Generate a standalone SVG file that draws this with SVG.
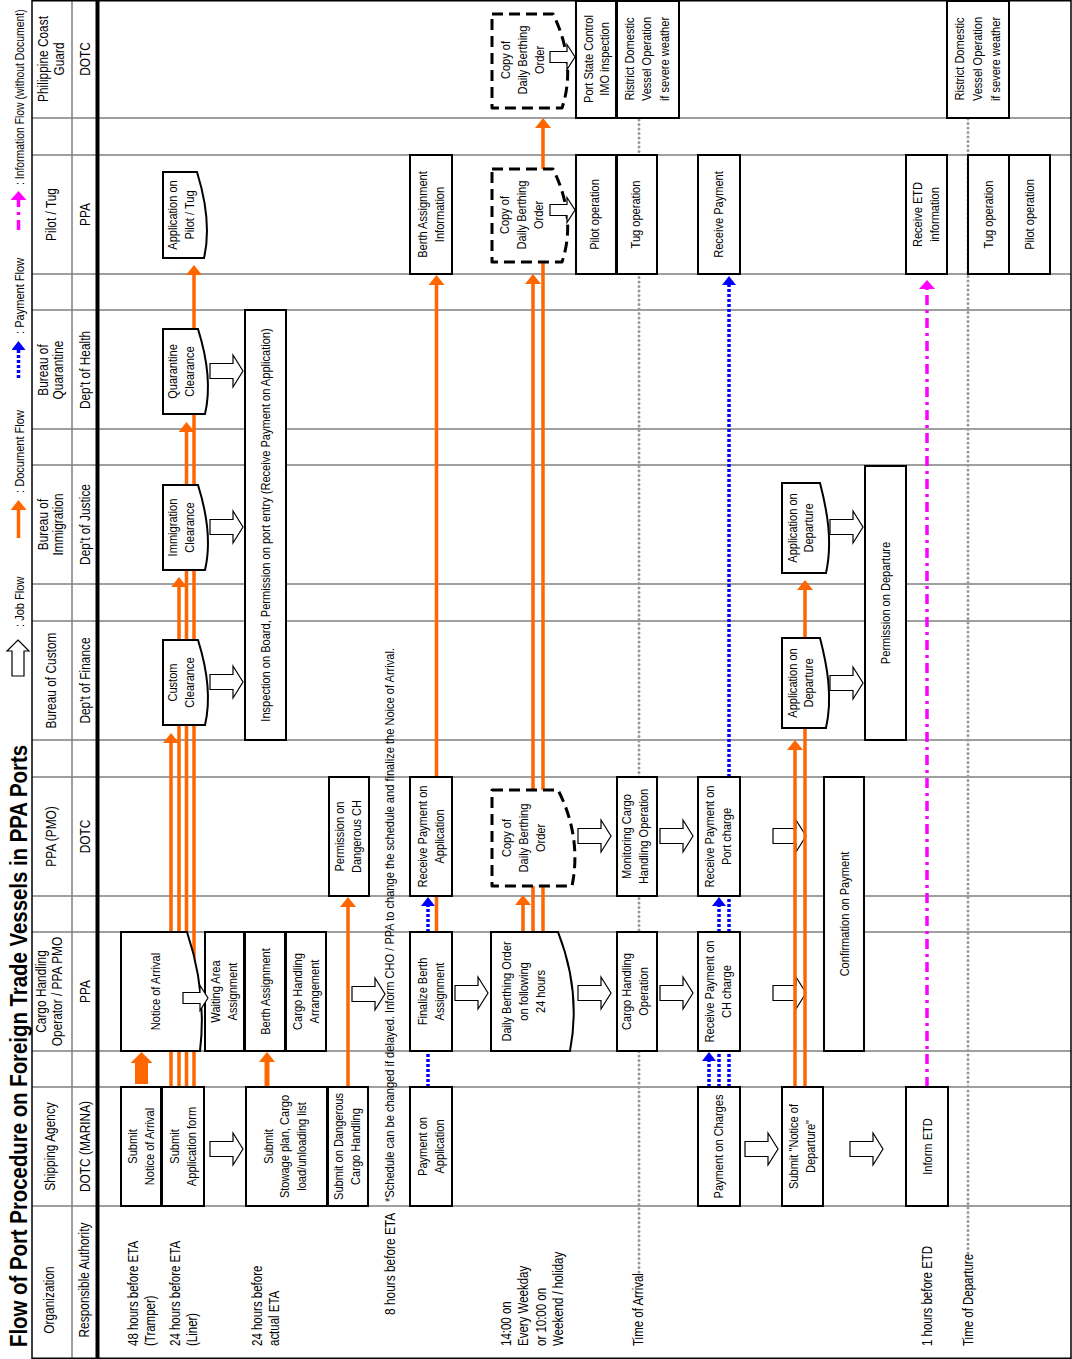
<svg xmlns="http://www.w3.org/2000/svg" width="1072" height="1359" viewBox="0 0 1072 1359">
<defs>
<style>
text{font-family:"Liberation Sans",Arial,Helvetica,sans-serif;fill:#000}
.bt{font-size:13.5px;text-anchor:middle}
.hd{font-size:14.5px;text-anchor:middle}
.tl{font-size:14px}
.lg{font-size:13.5px}
.title{font-size:24px;font-weight:bold}
.lane{stroke:#808080;stroke-width:1.5;fill:none}
.box{fill:#fff;stroke:#000;stroke-width:2}
.dbox{fill:#fff;stroke:#000;stroke-width:3;stroke-dasharray:11 6;stroke-linejoin:round}
.ja{fill:#fff;stroke:#000;stroke-width:1.2}
.jan{fill:none;stroke:#000;stroke-width:1.2}
.or{stroke:#FF6600;stroke-width:3.5;fill:none}
.bl{stroke:#0000FF;stroke-width:3.5;stroke-dasharray:3 2;fill:none}
.mg{stroke:#FF00FF;stroke-width:3.5;stroke-dasharray:10 5 3 5;fill:none}
.gd{stroke:#999;stroke-width:3;stroke-dasharray:0 4.5;stroke-linecap:round;fill:none}
</style>
<marker id="ah-o" viewBox="0 0 10 16" refX="0" refY="8" markerWidth="10" markerHeight="16" markerUnits="userSpaceOnUse" orient="auto"><path d="M0,0L10,8L0,16Z" fill="#FF6600"/></marker>
<marker id="ah-b" viewBox="0 0 9 14" refX="0" refY="7" markerWidth="9" markerHeight="14" markerUnits="userSpaceOnUse" orient="auto"><path d="M0,0L9,7L0,14Z" fill="#0000FF"/></marker>
<marker id="ah-m" viewBox="0 0 9 16" refX="0" refY="8" markerWidth="9" markerHeight="16" markerUnits="userSpaceOnUse" orient="auto"><path d="M0,0L9,8L0,16Z" fill="#FF00FF"/></marker>
<path id="ja" d="M0,-7.5H23V-16L33,0L23,16V7.5H0Z"/>
<path id="jas" d="M0,-5.5H17V-12.5L25,0L17,12.5V5.5H0Z"/>
</defs>
<rect x="0" y="0" width="1072" height="1359" fill="#fff"/>

<g id="grid">
<path class="lane" d="M32 118H1071M32 155H1071M32 274H1071M32 310H1071M32 429H1071M32 465H1071M32 584H1071M32 621H1071M32 740H1071M32 777H1071M32 896H1071M32 932H1071M32 1051H1071M32 1087H1071M32 1206H1071M72 0V1359"/>
<path d="M32 0V1359M1071 0V1359M32 0.75H1071M32 1358.25H1071" stroke="#000" stroke-width="1.5" fill="none"/>
<path d="M97.5 0V1359" stroke="#000" stroke-width="4"/>
</g>

<g id="title">
<text class="title" transform="translate(27,1347) rotate(-90)" textLength="602" lengthAdjust="spacingAndGlyphs">Flow of Port Procedure on Foreign Trade Vessels in PPA Ports</text>
</g>

<g id="legend">
<path d="M18,640L29,651L24,651L24,676L12,676L12,651L7,651Z" class="ja"/>
<text class="lg" transform="translate(23.5,627) rotate(-90) scale(.82,1)">: Job Flow</text>
<path class="or" d="M18.5 538V510" marker-end="url(#ah-o)"/>
<text class="lg" transform="translate(23.5,493) rotate(-90) scale(.82,1)">: Document Flow</text>
<path class="bl" d="M18.5 378V350" marker-end="url(#ah-b)"/>
<text class="lg" transform="translate(23.5,334) rotate(-90) scale(.82,1)">: Payment Flow</text>
<path class="mg" d="M18.5 230V200" marker-end="url(#ah-m)"/>
<text class="lg" style="font-size:13px" transform="translate(23.5,185) rotate(-90) scale(.8,1)">: Information Flow (without Document)</text>
</g>

<g id="header">
<text class="hd" transform="translate(48,59) rotate(-90) scale(.82,1)"><tspan x="0">Philippine Coast</tspan><tspan x="0" dy="16">Guard</tspan></text>
<text class="hd" transform="translate(89.5,59) rotate(-90) scale(.82,1)">DOTC</text>
<text class="hd" transform="translate(55.5,214.5) rotate(-90) scale(.82,1)">Pilot / Tug</text>
<text class="hd" transform="translate(89.5,214.5) rotate(-90) scale(.82,1)">PPA</text>
<text class="hd" transform="translate(47.5,370) rotate(-90) scale(.82,1)"><tspan x="0">Bureau of</tspan><tspan x="0" dy="16">Quarantine</tspan></text>
<text class="hd" transform="translate(89.5,370) rotate(-90) scale(.82,1)">Dep't of Health</text>
<text class="hd" transform="translate(47.5,524.5) rotate(-90) scale(.82,1)"><tspan x="0">Bureau of</tspan><tspan x="0" dy="16">Immigration</tspan></text>
<text class="hd" transform="translate(89.5,524.5) rotate(-90) scale(.82,1)">Dep't of Justice</text>
<text class="hd" transform="translate(55.5,680.5) rotate(-90) scale(.82,1)">Bureau of Custom</text>
<text class="hd" transform="translate(89.5,680.5) rotate(-90) scale(.82,1)">Dep't of Finance</text>
<text class="hd" transform="translate(55.5,836.5) rotate(-90) scale(.82,1)">PPA (PMO)</text>
<text class="hd" transform="translate(89.5,836.5) rotate(-90) scale(.82,1)">DOTC</text>
<text class="hd" transform="translate(46,991.5) rotate(-90) scale(.82,1)"><tspan x="0">Cargo Handling</tspan><tspan x="0" dy="16">Operator / PPA PMO</tspan></text>
<text class="hd" transform="translate(89.5,991.5) rotate(-90) scale(.82,1)">PPA</text>
<text class="hd" transform="translate(55,1146.5) rotate(-90) scale(.82,1)">Shipping Agency</text>
<text class="hd" transform="translate(89.5,1146.5) rotate(-90) scale(.82,1)">DOTC (MARINA)</text>
<text class="hd" transform="translate(54,1300) rotate(-90) scale(.82,1)">Organization</text>
<text class="hd" transform="translate(89,1280) rotate(-90) scale(.82,1)">Responsible Authority</text>
</g>

<g id="time-labels">
<text class="tl" transform="translate(138,1346) rotate(-90) scale(.82,1)">48 hours before ETA</text>
<text class="tl" transform="translate(155,1346) rotate(-90) scale(.82,1)">(Tramper)</text>
<text class="tl" transform="translate(180,1346) rotate(-90) scale(.82,1)">24 hours before ETA</text>
<text class="tl" transform="translate(197,1346) rotate(-90) scale(.82,1)">(Liner)</text>
<text class="tl" transform="translate(262,1346) rotate(-90) scale(.82,1)">24 hours before</text>
<text class="tl" transform="translate(279,1346) rotate(-90) scale(.82,1)">actual ETA</text>
<text class="tl" style="font-size:14.5px" transform="translate(395,1315) rotate(-90) scale(.82,1)">8 hours before ETA</text>
<text class="tl" style="font-size:13.5px" transform="translate(394,1202) rotate(-90)" textLength="554" lengthAdjust="spacingAndGlyphs">*Schedule can be changed if delayed. Inform CHO / PPA to change the schedule and finalize the Noice of Arrival.</text>
<text class="tl" transform="translate(511,1346) rotate(-90) scale(.82,1)">14:00 on</text>
<text class="tl" transform="translate(528,1346) rotate(-90) scale(.82,1)">Every Weekday</text>
<text class="tl" transform="translate(546,1346) rotate(-90) scale(.82,1)">or 10:00 on</text>
<text class="tl" transform="translate(563,1346) rotate(-90) scale(.82,1)">Weekend / holiday</text>
<text class="tl" transform="translate(643,1346) rotate(-90) scale(.82,1)">Time of Arrival</text>
<text class="tl" transform="translate(932,1346) rotate(-90) scale(.82,1)">1 hours before ETD</text>
<text class="tl" transform="translate(973,1346) rotate(-90) scale(.82,1)">Time of Departure</text>
</g>

<g id="connectors">
<path class="gd" d="M639 1272V118M968 1253V118"/>
<use href="#ja" class="jan" x="773" y="836"/>
<use href="#ja" class="jan" x="773" y="993"/>
<polygon points="135,1084 148,1084 148,1063 152.5,1063 141.5,1052 130.5,1063 135,1063" fill="#FF6600"/>
<path class="or" d="M171 1087V743" marker-end="url(#ah-o)"/>
<path class="or" d="M179 1087V587" marker-end="url(#ah-o)"/>
<path class="or" d="M186.5 1087V432" marker-end="url(#ah-o)"/>
<path class="or" d="M194 1087V275" marker-end="url(#ah-o)"/>
<path class="or" style="stroke-width:5" d="M267 1087V1062" marker-end="url(#ah-o)"/>
<path class="or" d="M348 1087V907" marker-end="url(#ah-o)"/>
<path class="or" d="M436.5 932V896"/>
<path class="or" d="M436.5 777V285" marker-end="url(#ah-o)"/>
<path class="or" d="M523 932V905" marker-end="url(#ah-o)"/>
<path class="or" d="M533 932V284" marker-end="url(#ah-o)"/>
<path class="or" d="M543 932V128" marker-end="url(#ah-o)"/>
<path class="or" d="M795 1087V750" marker-end="url(#ah-o)"/>
<path class="or" d="M805 1087V590" marker-end="url(#ah-o)"/>
<path class="bl" d="M428 1087V906" marker-end="url(#ah-b)"/>
<path class="bl" d="M709 1087V1061" marker-end="url(#ah-b)"/>
<path class="bl" d="M719 1087V906" marker-end="url(#ah-b)"/>
<path class="bl" d="M729 1087V285" marker-end="url(#ah-b)"/>
<path class="mg" d="M927 1087V289" marker-end="url(#ah-m)"/>
</g>

<g id="nodes">
<g id="n-submit-noa"><rect class="box" x="121" y="1087" width="40" height="119"/><text class="bt" transform="translate(137,1146.5) rotate(-90) scale(.82,1)"><tspan x="0">Submit</tspan><tspan x="0" dy="17">Notice of Arrival</tspan></text></g>
<g id="n-submit-app"><rect class="box" x="162" y="1087" width="42" height="119"/><text class="bt" transform="translate(179,1146.5) rotate(-90) scale(.82,1)"><tspan x="0">Submit</tspan><tspan x="0" dy="17">Application form</tspan></text></g>
<g id="n-notice-arrival"><path class="box" d="M121 932H187C199 967.7 205 1009.4 200 1051H121Z"/><text class="bt" transform="translate(160,991.5) rotate(-90) scale(.82,1)">Notice of Arrival</text></g>
<g id="n-waiting"><rect class="box" x="205" y="932" width="39" height="119"/><text class="bt" transform="translate(220,991.5) rotate(-90) scale(.82,1)"><tspan x="0">Waiting Area</tspan><tspan x="0" dy="17">Assignment</tspan></text></g>
<g id="n-berth"><rect class="box" x="245" y="932" width="40" height="119"/><text class="bt" transform="translate(269.5,991.5) rotate(-90) scale(.82,1)">Berth Assignment</text></g>
<g id="n-ch-arrangement"><rect class="box" x="286" y="932" width="40" height="119"/><text class="bt" transform="translate(302,991.5) rotate(-90) scale(.82,1)"><tspan x="0">Cargo Handling</tspan><tspan x="0" dy="17">Arrangement</tspan></text></g>
<g id="n-stowage"><rect class="box" x="246" y="1087" width="81" height="119"/><text class="bt" transform="translate(272.5,1146.5) rotate(-90) scale(.82,1)"><tspan x="0">Submit</tspan><tspan x="0" dy="17">Stowage plan, Cargo</tspan><tspan x="0" dy="17">load/unloading list</tspan></text></g>
<g id="n-dangerous"><rect class="box" x="328" y="1087" width="40" height="119"/><text class="bt" transform="translate(343,1146.5) rotate(-90) scale(.82,1)"><tspan x="0">Submit on Dangerous</tspan><tspan x="0" dy="17">Cargo Handling</tspan></text></g>
<g id="n-perm-dangerous"><rect class="box" x="329" y="777" width="40" height="119"/><text class="bt" transform="translate(344,836.5) rotate(-90) scale(.82,1)"><tspan x="0">Permission on</tspan><tspan x="0" dy="17">Dangerous CH</tspan></text></g>
<g id="n-custom-clr"><path class="box" d="M163 640H198C206 665.5 212 695.3 205 725H163Z"/><text class="bt" transform="translate(177,682.5) rotate(-90) scale(.82,1)"><tspan x="0">Custom</tspan><tspan x="0" dy="17">Clearance</tspan></text></g>
<g id="n-imm-clr"><path class="box" d="M163 485H198C206 510.5 212 540.3 205 570H163Z"/><text class="bt" transform="translate(177,527.5) rotate(-90) scale(.82,1)"><tspan x="0">Immigration</tspan><tspan x="0" dy="17">Clearance</tspan></text></g>
<g id="n-quar-clr"><path class="box" d="M163 329H198C206 354.5 212 384.3 205 414H163Z"/><text class="bt" transform="translate(177,371.5) rotate(-90) scale(.82,1)"><tspan x="0">Quarantine</tspan><tspan x="0" dy="17">Clearance</tspan></text></g>
<g id="n-app-pilot"><path class="box" d="M163 172H197C205 197.8 211 227.9 204 258H163Z"/><text class="bt" transform="translate(177,215) rotate(-90) scale(.82,1)"><tspan x="0">Application on</tspan><tspan x="0" dy="17">Pilot / Tug</tspan></text></g>
<g id="n-inspection"><rect class="box" x="245" y="310" width="41" height="430"/><text class="bt" transform="translate(270,525) rotate(-90) scale(.82,1)">Inspection on Board, Permission on port entry (Receive Payment on Application)</text></g>
<g id="n-pay-app"><rect class="box" x="410" y="1087" width="42" height="119"/><text class="bt" transform="translate(427,1146.5) rotate(-90) scale(.82,1)"><tspan x="0">Payment on</tspan><tspan x="0" dy="17">Application</tspan></text></g>
<g id="n-finalize"><rect class="box" x="410" y="932" width="42" height="119"/><text class="bt" transform="translate(427,991.5) rotate(-90) scale(.82,1)"><tspan x="0">Finalize Berth</tspan><tspan x="0" dy="17">Assignment</tspan></text></g>
<g id="n-recv-app"><rect class="box" x="410" y="777" width="42" height="119"/><text class="bt" transform="translate(427,836.5) rotate(-90) scale(.82,1)"><tspan x="0">Receive Payment on</tspan><tspan x="0" dy="17">Application</tspan></text></g>
<g id="n-berth-info"><rect class="box" x="410" y="155" width="42" height="119"/><text class="bt" transform="translate(427,214.5) rotate(-90) scale(.82,1)"><tspan x="0">Berth Assignment</tspan><tspan x="0" dy="17">Information</tspan></text></g>
<g id="n-daily"><path class="box" d="M491 932H558C572 967.7 578 1009.4 570 1051H491Z"/><text class="bt" transform="translate(511,991.5) rotate(-90) scale(.82,1)"><tspan x="0">Daily Berthing Order</tspan><tspan x="0" dy="17">on following</tspan><tspan x="0" dy="17">24 hours</tspan></text></g>
<g id="n-copy-pmo"><path class="dbox" d="M492 790H558C573 818.8 579 852.4 572 886H492Z"/><text class="bt" transform="translate(511,838) rotate(-90) scale(.82,1)"><tspan x="0">Copy of</tspan><tspan x="0" dy="17">Daily Berthing</tspan><tspan x="0" dy="17">Order</tspan></text></g>
<g id="n-copy-pilot"><path class="dbox" d="M492 169H553C567 196.9 573 229.5 562 262H492Z"/><text class="bt" transform="translate(509,215) rotate(-90) scale(.82,1)"><tspan x="0">Copy of</tspan><tspan x="0" dy="17">Daily Berthing</tspan><tspan x="0" dy="17">Order</tspan></text></g>
<g id="n-copy-pcg"><path class="dbox" d="M492 14H553C567 42.2 573 75.1 562 108H492Z"/><text class="bt" transform="translate(510,60) rotate(-90) scale(.82,1)"><tspan x="0">Copy of</tspan><tspan x="0" dy="17">Daily Berthing</tspan><tspan x="0" dy="17">Order</tspan></text></g>
<g id="n-psc"><rect class="box" x="576" y="1" width="40" height="117"/><text class="bt" transform="translate(592.5,59) rotate(-90) scale(.82,1)"><tspan x="0">Port State Control</tspan><tspan x="0" dy="16.5">IMO inspection</tspan></text></g>
<g id="n-ristrict-1"><rect class="box" x="617" y="1" width="62" height="117"/><text class="bt" transform="translate(634,59) rotate(-90) scale(.82,1)"><tspan x="0">Ristrict Domestic</tspan><tspan x="0" dy="17.5">Vessel Operation</tspan><tspan x="0" dy="17.5">if severe weather</tspan></text></g>
<g id="n-pilot-op-1"><rect class="box" x="576" y="155" width="40" height="119"/><text class="bt" transform="translate(599,214.5) rotate(-90) scale(.82,1)">Pilot operation</text></g>
<g id="n-tug-op-1"><rect class="box" x="617" y="155" width="40" height="119"/><text class="bt" transform="translate(640,214.5) rotate(-90) scale(.82,1)">Tug operation</text></g>
<g id="n-monitoring"><rect class="box" x="617" y="777" width="40" height="119"/><text class="bt" transform="translate(631,836.5) rotate(-90) scale(.82,1)"><tspan x="0">Monitoring Cargo</tspan><tspan x="0" dy="17">Handling Operation</tspan></text></g>
<g id="n-ch-operation"><rect class="box" x="617" y="932" width="40" height="119"/><text class="bt" transform="translate(631,991.5) rotate(-90) scale(.82,1)"><tspan x="0">Cargo Handling</tspan><tspan x="0" dy="17">Operation</tspan></text></g>
<g id="n-pay-charges"><rect class="box" x="698" y="1087" width="42" height="119"/><text class="bt" transform="translate(723,1146.5) rotate(-90) scale(.82,1)">Payment on Charges</text></g>
<g id="n-recv-ch"><rect class="box" x="698" y="932" width="42" height="119"/><text class="bt" transform="translate(714,991.5) rotate(-90) scale(.82,1)"><tspan x="0">Receive Payment on</tspan><tspan x="0" dy="17">CH charge</tspan></text></g>
<g id="n-recv-port"><rect class="box" x="698" y="777" width="42" height="119"/><text class="bt" transform="translate(714,836.5) rotate(-90) scale(.82,1)"><tspan x="0">Receive Payment on</tspan><tspan x="0" dy="17">Port charge</tspan></text></g>
<g id="n-recv-pay"><rect class="box" x="698" y="155" width="42" height="119"/><text class="bt" transform="translate(723,214.5) rotate(-90) scale(.82,1)">Receive Payment</text></g>
<g id="n-submit-nod"><rect class="box" x="782" y="1087" width="41" height="119"/><text class="bt" transform="translate(798,1146.5) rotate(-90) scale(.82,1)"><tspan x="0">Submit "Notice of</tspan><tspan x="0" dy="17">Departure"</tspan></text></g>
<g id="n-app-dep-c"><path class="box" d="M782 638H820C827 665 833 696.5 826 728H782Z"/><text class="bt" transform="translate(797,683) rotate(-90) scale(.82,1)"><tspan x="0">Application on</tspan><tspan x="0" dy="16.5">Departure</tspan></text></g>
<g id="n-app-dep-i"><path class="box" d="M782 483H820C827 510 833 541.5 826 573H782Z"/><text class="bt" transform="translate(797,528) rotate(-90) scale(.82,1)"><tspan x="0">Application on</tspan><tspan x="0" dy="16.5">Departure</tspan></text></g>
<g id="n-confirm"><rect class="box" x="824" y="777" width="40" height="274"/><text class="bt" transform="translate(848.5,914) rotate(-90) scale(.82,1)">Confirmation on Payment</text></g>
<g id="n-perm-dep"><rect class="box" x="865" y="466" width="41" height="274"/><text class="bt" transform="translate(890,603) rotate(-90) scale(.82,1)">Permission on Departure</text></g>
<g id="n-inform-etd"><rect class="box" x="906" y="1087" width="42" height="119"/><text class="bt" transform="translate(931.5,1146.5) rotate(-90) scale(.82,1)">Inform ETD</text></g>
<g id="n-recv-etd"><rect class="box" x="906" y="155" width="41" height="119"/><text class="bt" transform="translate(922,214.5) rotate(-90) scale(.82,1)"><tspan x="0">Receive ETD</tspan><tspan x="0" dy="17">information</tspan></text></g>
<g id="n-tug-op-2"><rect class="box" x="968" y="155" width="41" height="119"/><text class="bt" transform="translate(992.5,214.5) rotate(-90) scale(.82,1)">Tug operation</text></g>
<g id="n-pilot-op-2"><rect class="box" x="1009" y="155" width="41" height="119"/><text class="bt" transform="translate(1034,214.5) rotate(-90) scale(.82,1)">Pilot operation</text></g>
<g id="n-ristrict-2"><rect class="box" x="947" y="1" width="62" height="117"/><text class="bt" transform="translate(964,59) rotate(-90) scale(.82,1)"><tspan x="0">Ristrict Domestic</tspan><tspan x="0" dy="18">Vessel Operation</tspan><tspan x="0" dy="18">if severe weather</tspan></text></g>
</g>

<g id="job-flow">
<use href="#jas" class="ja" x="183" y="998"/>
<use href="#jas" class="ja" x="550" y="210"/>
<use href="#jas" class="ja" x="550" y="57"/>
<use href="#ja" class="ja" x="210" y="1149"/>
<use href="#ja" class="ja" x="352" y="994"/>
<use href="#ja" class="ja" x="210" y="682"/>
<use href="#ja" class="ja" x="210" y="527"/>
<use href="#ja" class="ja" x="210" y="371"/>
<use href="#ja" class="ja" x="455" y="993"/>
<use href="#ja" class="ja" x="578" y="836"/>
<use href="#ja" class="ja" x="578" y="993"/>
<use href="#ja" class="ja" x="660" y="836"/>
<use href="#ja" class="ja" x="660" y="993"/>
<use href="#ja" class="ja" x="745" y="1149"/>
<use href="#ja" class="ja" x="830" y="683"/>
<use href="#ja" class="ja" x="830" y="527"/>
<use href="#ja" class="ja" x="850" y="1149"/>
</g>
</svg>
